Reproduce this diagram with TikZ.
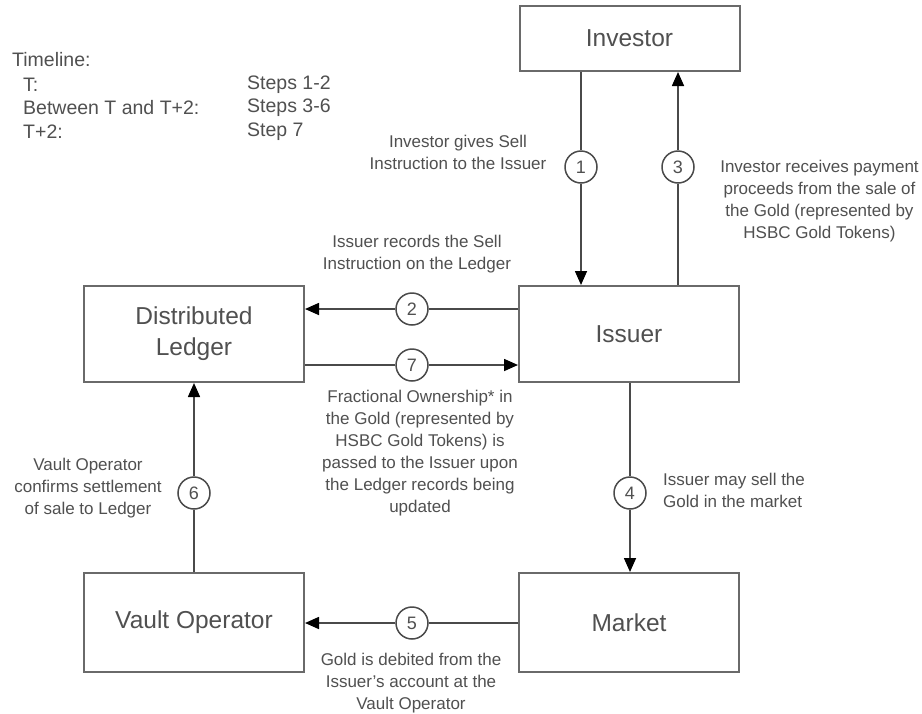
\documentclass[tikz,border=0pt]{standalone}
\usepackage{fontspec}
\setmainfont{Liberation Sans}
\usetikzlibrary{arrows.meta}
\definecolor{txt}{HTML}{505050}
\definecolor{boxc}{HTML}{6A6A6A}
\definecolor{linec}{HTML}{4A4A4A}
\tikzset{
  box/.style={draw=boxc, line width=2pt, fill=white, minimum width=220pt, inner sep=0pt,
    text=txt, align=center, font=\fontsize{24.5}{31}\selectfont},
  num/.style={circle, draw=linec, line width=1.5pt, fill=white, minimum size=32pt, inner sep=0pt,
    text=txt, font=\fontsize{18}{20}\selectfont},
  lab/.style={text=txt, align=center, inner sep=0pt, font=\fontsize{17}{22}\selectfont},
  tl/.style={text=txt, anchor=west, inner sep=0pt, font=\fontsize{19.5}{23.5}\selectfont},
  conn/.style={draw=linec, line width=1.6pt},
  arr/.style={conn, -{Triangle[length=14pt,width=12pt,color=black]}}
}
\begin{document}
\begin{tikzpicture}[x=1pt,y=-1pt]
\useasboundingbox (0,0) rectangle (922,713);
\fill[white] (0,0) rectangle (922,713);
% boxes
\node[box, minimum height=65pt] (inv) at (629.5,38.5) {Investor};
\node[box, minimum height=96pt] (led) at (194,334) {Distributed\\Ledger};
\node[box, minimum height=96pt] (iss) at (629,334) {Issuer};
\node[box, minimum height=99pt] (vlt) at (194,622.5) {Vault Operator};
\node[box, minimum height=99pt] (mkt) at (629,622.5) {Market};
% step circles
\node[num] (c1) at (581,167) {1};
\node[num] (c3) at (678,167) {3};
\node[num] (c2) at (412,309) {2};
\node[num] (c7) at (412,365) {7};
\node[num] (c4) at (630,493) {4};
\node[num] (c6) at (194,493) {6};
\node[num] (c5) at (412,623) {5};
% connectors
\draw[conn] (c1 |- inv.south) -- (c1);
\draw[arr] (c1) -- (c1 |- iss.north);
\draw[conn] (c3 |- iss.north) -- (c3);
\draw[arr] (c3) -- (c3 |- inv.south);
\draw[conn] (c2 -| iss.west) -- (c2);
\draw[arr] (c2) -- (c2 -| led.east);
\draw[conn] (c7 -| led.east) -- (c7);
\draw[arr] (c7) -- (c7 -| iss.west);
\draw[conn] (c4 |- iss.south) -- (c4);
\draw[arr] (c4) -- (c4 |- mkt.north);
\draw[conn] (c5 -| mkt.west) -- (c5);
\draw[arr] (c5) -- (c5 -| vlt.east);
\draw[conn] (c6 |- vlt.north) -- (c6);
\draw[arr] (c6) -- (c6 |- led.south);
% labels
\node[lab] (l1) at (458,152) {Investor gives Sell\\Instruction to the Issuer};
\node[lab] (l3) at (819.5,201) {Investor receives payment\\proceeds from the sale of\\the Gold (represented by\\HSBC Gold Tokens)};
\node[lab] (l2) at (417,254) {Issuer records the Sell\\Instruction on the Ledger};
\node[lab] (l7) at (420,453) {Fractional Ownership* in\\the Gold (represented by\\HSBC Gold Tokens) is\\passed to the Issuer upon\\the Ledger records being\\updated};
\node[lab, align=left, anchor=west] (l4) at (663,490) {Issuer may sell the\\Gold in the market};
\node[lab] (l6) at (88,488) {Vault Operator\\confirms settlement\\of sale to Ledger};
\node[lab] (l5) at (411,683) {Gold is debited from the\\Issuer's account at the\\Vault Operator};
% timeline
\node[tl] (t0) at (12,60) {Timeline:};
\node[tl] (t1) at (23,85) {T:};
\node[tl] (t2) at (23,108) {Between T and T+2:};
\node[tl] (t3) at (23,132) {T+2:};
\node[tl] (s1) at (247,85) {Steps 1-2};
\node[tl] (s2) at (247,108) {Steps 3-6};
\node[tl] (s3) at (247,132) {Step 7};
\end{tikzpicture}
\end{document}
